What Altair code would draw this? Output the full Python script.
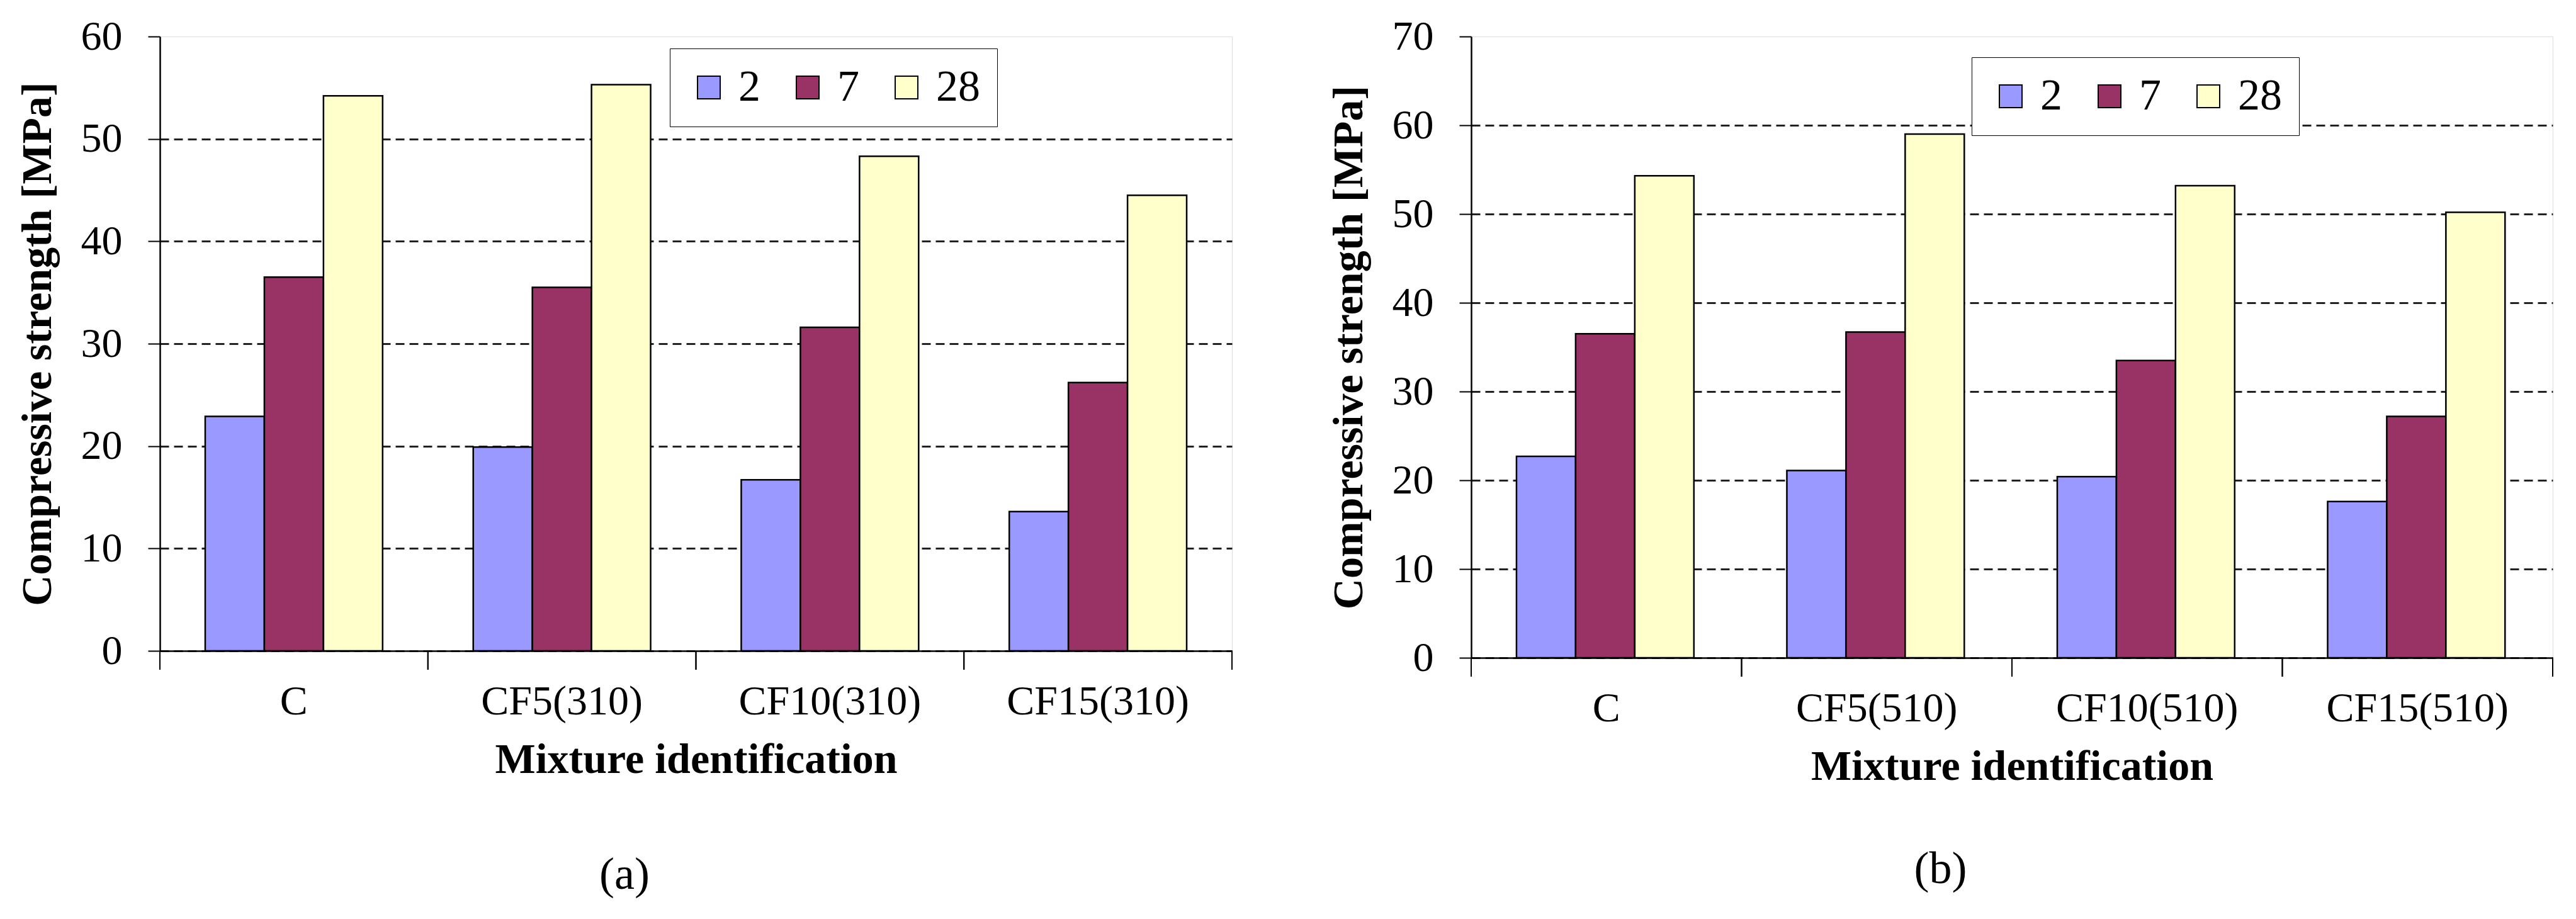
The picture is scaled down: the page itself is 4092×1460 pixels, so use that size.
import altair as alt
import pandas as pd

# ---- data ----
mixtures_a = ["C", "CF5(310)", "CF10(310)", "CF15(310)"]
mixtures_b = ["C", "CF5(510)", "CF10(510)", "CF15(510)"]
ages = ["2", "7", "28"]

a_day2 = [22.9, 19.9, 16.7, 13.6]
a_day7 = [36.5, 35.5, 31.6, 26.2]
a_day28 = [54.2, 55.3, 48.3, 44.5]

b_day2 = [22.7, 21.1, 20.4, 17.6]
b_day7 = [36.5, 36.7, 33.5, 27.2]
b_day28 = [54.3, 59.0, 53.2, 50.2]

colors = ["#9999FF", "#993366", "#FFFFCC"]
FONT = "Liberation Serif"


def panel(mixtures, series, ymax, w, h, lx, ly, caption, cap_offset):
    rows = []
    for age, vals in zip(ages, series):
        for m, v in zip(mixtures, vals):
            rows.append({"mix": m, "age": age, "val": v})
    df = pd.DataFrame(rows)
    tick_df = pd.DataFrame({"mix": mixtures})

    x_axis = alt.Axis(
        grid=False, ticks=False, domainColor="black", domainWidth=2.5,
        labelAngle=0, labelFont=FONT, labelFontSize=66, labelColor="black",
        labelLimit=0, labelPadding=48, titleFont=FONT, titleFontSize=68,
        titleFontWeight="bold", titleColor="black", titlePadding=26,
    )
    x_scale = alt.Scale(paddingInner=0, paddingOuter=0)
    xtitle = "Mixture identification"

    y_axis = alt.Axis(
        values=list(range(0, ymax + 1, 10)), grid=True, gridDash=[14, 8],
        gridColor="#222222", gridWidth=3,
        gridOpacity=alt.condition(f"datum.value >= {ymax}", alt.value(0), alt.value(1)),
        domainColor="black", domainWidth=2.5, tickColor="black", tickWidth=2,
        tickSize=19, labelFont=FONT, labelFontSize=66, labelColor="black",
        labelLimit=0, labelPadding=41, titleFont=FONT, titleFontSize=68,
        titleFontWeight="bold", titleColor="black", titlePadding=34,
    )

    bars = alt.Chart(df).mark_bar(stroke="black", strokeWidth=2.5).encode(
        x=alt.X("mix:N", sort=mixtures, scale=x_scale, axis=x_axis, title=xtitle),
        xOffset=alt.XOffset("age:N", sort=ages,
                            scale=alt.Scale(paddingInner=0, paddingOuter=0.766)),
        y=alt.Y("val:Q", scale=alt.Scale(domain=[0, ymax]), axis=y_axis,
                title="Compressive strength [MPa]"),
        color=alt.Color(
            "age:N", sort=ages, scale=alt.Scale(domain=ages, range=colors),
            legend=alt.Legend(
                orient="none", legendX=lx, legendY=ly, direction="horizontal",
                title=None, symbolType="square", symbolSize=1296,
                symbolStrokeColor="black", symbolStrokeWidth=2, symbolOpacity=1,
                labelFont=FONT, labelFontSize=70, labelColor="black",
                strokeColor="black", fillColor="white", padding=27,
                columnPadding=40, labelOffset=12,
            ),
        ),
    )

    t0 = alt.Chart(tick_df).mark_rule(color="black", strokeWidth=2).encode(
        x=alt.X("mix:N", sort=mixtures, scale=x_scale, axis=x_axis, title=xtitle,
                bandPosition=0),
        y=alt.value(h), y2=alt.value(h + 30),
    )
    t1 = alt.Chart(tick_df).mark_rule(color="black", strokeWidth=2).encode(
        x=alt.X("mix:N", sort=mixtures, scale=x_scale, axis=x_axis, title=xtitle,
                bandPosition=1),
        y=alt.value(h), y2=alt.value(h + 30),
    )

    return alt.layer(bars, t0, t1).properties(
        width=w, height=h,
        title=alt.TitleParams(caption, orient="bottom", anchor="middle",
                              frame="bounds", font=FONT, fontSize=72,
                              fontWeight="normal", color="black", offset=cap_offset),
    )


pa = panel(mixtures_a, [a_day2, a_day7, a_day28], 60, 1703, 976, 810, 19, "(a)", 114)
pb = panel(mixtures_b, [b_day2, b_day7, b_day28], 70, 1718, 987, 795, 33, "(b)", 94)

chart = (
    alt.hconcat(pa, pb, spacing=149)
    .resolve_scale(x="independent", y="independent", color="independent")
    .resolve_legend(color="independent")
    .properties(padding={"top": 16, "left": 17, "right": 0, "bottom": 0})
    .configure_view(stroke="#999999", strokeWidth=2)
    .configure_legend(strokeWidth=3, cornerRadius=0, labelFont=FONT)
    .configure(background="white")
)

chart.save("out.html", embed_options={"renderer": "svg", "actions": False})
